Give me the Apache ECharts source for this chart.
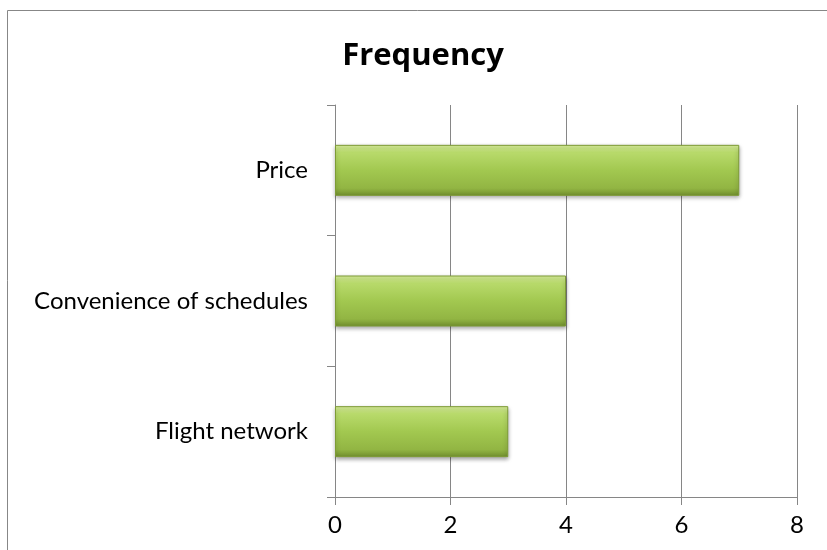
<!DOCTYPE html>
<html>
<head>
<meta charset="utf-8">
<script src="https://cdn.jsdelivr.net/npm/echarts@6/dist/echarts.min.js"></script>
<style>
  html, body { margin: 0; padding: 0; background: #fff; }
  #chart { width: 827px; height: 550px; }
</style>
</head>
<body>
<div id="chart"></div>
<script>
// categories bottom -> top, as the value axis reads them
var categories = ['Flight network', 'Convenience of schedules', 'Price'];
var frequency = [3, 4, 7];
var xTicks = [0, 2, 4, 6, 8];

var chart = echarts.init(document.getElementById('chart'));

var option = {
    animation: false,
    textStyle: { fontFamily: 'Lato' },
    title: {
        text: 'Frequency',
        left: 418,
        textAlign: 'center',
        top: 36,
        textStyle: { fontFamily: 'Open Sans', fontSize: 31, fontWeight: 'bold', color: '#000' }
    },
    graphic: [{
        type: 'rect',
        shape: { x: 7.5, y: 10.5, width: 840, height: 560 },
        style: { fill: 'none', stroke: '#878787', lineWidth: 1 },
        silent: true
    }],
    grid: { left: 335, right: 30, top: 105, bottom: 53 },
    xAxis: {
        type: 'value',
        min: xTicks[0],
        max: xTicks[xTicks.length - 1],
        interval: 2,
        axisLine: { show: true, lineStyle: { color: '#868686', width: 1 } },
        axisTick: { show: true, length: 8, lineStyle: { color: '#868686' } },
        splitLine: { show: true, lineStyle: { color: '#868686', width: 1 } },
        axisLabel: { color: '#000', fontSize: 24, margin: 16 }
    },
    yAxis: {
        type: 'category',
        data: categories,
        axisLine: { show: true, lineStyle: { color: '#868686', width: 1 } },
        axisTick: { show: true, length: 8, lineStyle: { color: '#868686' } },
        axisLabel: { color: '#000', fontSize: 24, margin: 27 }
    },
    series: [{
        name: 'Frequency',
        type: 'bar',
        data: frequency,
        barWidth: 51,
        itemStyle: {
            color: new echarts.graphic.LinearGradient(0, 0, 0, 1, [
                { offset: 0, color: '#dcf29e' },
                { offset: 0.15, color: '#b8da6b' },
                { offset: 0.5, color: '#a2c850' },
                { offset: 0.85, color: '#92b543' },
                { offset: 1, color: '#718f2e' }
            ]),
            borderColor: '#7d9b35',
            borderWidth: 1,
            shadowColor: 'rgba(0,0,0,0.35)',
            shadowBlur: 4,
            shadowOffsetY: 2
        }
    }]
};

chart.setOption(option);
</script>
</body>
</html>
